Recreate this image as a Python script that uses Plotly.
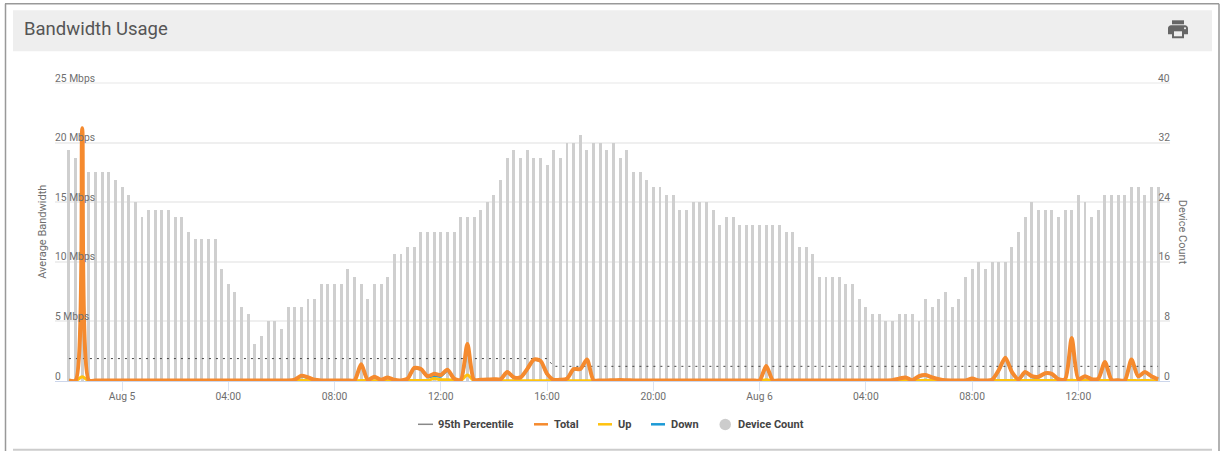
import re
import pandas as pd
import plotly.graph_objects as go

# Sample times: one reading every 15 minutes
times = pd.date_range("2021-08-04 22:00", periods=165, freq="15min")

device_count = [
    31, 30, 27, 28, 28, 28, 28, 27, 26, 25, 24, 22, 23, 23, 23, 23, 22, 22, 20, 19,
    19, 19, 19, 15, 13, 12, 10, 9, 5, 6, 8, 8, 7, 10, 10, 10, 11, 11, 13, 13,
    13, 13, 15, 14, 13, 11, 13, 13, 14, 17, 17, 18, 18, 20, 20, 20, 20, 20, 20, 22,
    22, 22, 23, 24, 25, 27, 30, 31, 30, 31, 30, 30, 29, 31, 30, 32, 32, 33, 31, 32,
    32, 31, 32, 30, 31, 28, 28, 27, 26, 26, 25, 25, 23, 23, 24, 24, 24, 23, 21, 22,
    22, 21, 21, 21, 21, 21, 21, 21, 20, 20, 18, 18, 17, 14, 14, 14, 14, 13, 13, 11,
    10, 9, 9, 8, 8, 9, 9, 9, 8, 11, 10, 11, 12, 10, 11, 14, 15, 16, 15, 16,
    16, 16, 18, 20, 22, 24, 23, 23, 23, 22, 23, 23, 25, 24, 22, 23, 25, 25, 25, 25,
    26, 26, 25, 26, 26,
]

total_mbps = [
    0.05, 0.05, 21.2, 0.05, 0.05, 0.05, 0.05, 0.05, 0.05, 0.05,
    0.05, 0.05, 0.05, 0.05, 0.05, 0.05, 0.05, 0.05, 0.05, 0.05,
    0.05, 0.05, 0.05, 0.05, 0.05, 0.05, 0.05, 0.05, 0.05, 0.05,
    0.05, 0.05, 0.05, 0.05, 0.12, 0.45, 0.3, 0.1, 0.05, 0.05,
    0.05, 0.05, 0.05, 0.05, 1.4, 0.1, 0.35, 0.1, 0.3, 0.1,
    0.05, 0.2, 1.1, 1.0, 0.4, 0.6, 0.5, 0.95, 0.2, 0.1,
    3.1, 0.1, 0.1, 0.12, 0.15, 0.15, 0.75, 0.3, 0.3, 1.0,
    1.8, 1.7, 0.6, 0.1, 0.1, 0.2, 1.0, 1.0, 1.8, 0.06,
    0.05, 0.05, 0.06, 0.08, 0.06, 0.05, 0.05, 0.05, 0.05, 0.05,
    0.05, 0.05, 0.05, 0.05, 0.05, 0.05, 0.05, 0.05, 0.05, 0.05,
    0.05, 0.05, 0.05, 0.05, 0.05, 1.25, 0.05, 0.05, 0.05, 0.05,
    0.05, 0.05, 0.05, 0.05, 0.05, 0.05, 0.05, 0.05, 0.05, 0.05,
    0.05, 0.05, 0.05, 0.05, 0.07, 0.2, 0.3, 0.07, 0.4, 0.5,
    0.3, 0.15, 0.06, 0.05, 0.05, 0.05, 0.2, 0.05, 0.05, 0.1,
    0.9, 1.95, 0.75, 0.15, 0.75, 0.4, 0.35, 0.65, 0.6, 0.15,
    0.15, 3.6, 0.15, 0.4, 0.15, 0.2, 1.6, 0.1, 0.06, 0.06,
    1.8, 0.4, 0.75, 0.4, 0.15,
]

up_mbps = [
    0.02, 0.02, 0.35, 0.02, 0.02, 0.02, 0.02, 0.02, 0.02, 0.02,
    0.02, 0.02, 0.02, 0.02, 0.02, 0.02, 0.02, 0.02, 0.02, 0.02,
    0.02, 0.02, 0.02, 0.02, 0.02, 0.02, 0.02, 0.02, 0.02, 0.02,
    0.02, 0.02, 0.02, 0.02, 0.03, 0.06, 0.05, 0.03, 0.02, 0.02,
    0.02, 0.02, 0.02, 0.02, 0.04, 0.03, 0.03, 0.03, 0.03, 0.03,
    0.03, 0.03, 0.05, 0.05, 0.05, 0.2, 0.1, 0.1, 0.05, 0.05,
    0.5, 0.03, 0.03, 0.03, 0.03, 0.03, 0.03, 0.03, 0.03, 0.03,
    0.03, 0.03, 0.03, 0.03, 0.03, 0.03, 0.03, 0.03, 0.03, 0.02,
    0.02, 0.02, 0.02, 0.02, 0.02, 0.02, 0.02, 0.02, 0.02, 0.02,
    0.02, 0.02, 0.02, 0.02, 0.02, 0.02, 0.02, 0.02, 0.02, 0.02,
    0.02, 0.02, 0.02, 0.02, 0.02, 0.1, 0.02, 0.02, 0.02, 0.02,
    0.02, 0.02, 0.02, 0.02, 0.02, 0.02, 0.02, 0.02, 0.02, 0.02,
    0.02, 0.02, 0.02, 0.02, 0.02, 0.03, 0.05, 0.02, 0.04, 0.06,
    0.04, 0.03, 0.02, 0.02, 0.02, 0.02, 0.03, 0.02, 0.02, 0.03,
    0.05, 0.05, 0.05, 0.03, 0.05, 0.04, 0.04, 0.04, 0.04, 0.03,
    0.03, 0.06, 0.03, 0.04, 0.03, 0.03, 0.05, 0.03, 0.02, 0.02,
    0.05, 0.03, 0.04, 0.03, 0.03,
]

down_mbps = [max(t - u, 0) for t, u in zip(total_mbps, up_mbps)]

# 95th percentile steps down once the earlier burst leaves the window
percentile_mbps = [1.88] * 73 + [1.23] * 92

x_tick_times = ["2021-08-05 00:00", "2021-08-05 04:00", "2021-08-05 08:00", "2021-08-05 12:00",
                "2021-08-05 16:00", "2021-08-05 20:00", "2021-08-06 00:00", "2021-08-06 04:00",
                "2021-08-06 08:00", "2021-08-06 12:00"]
x_tick_labels = ["Aug 5", "04:00", "08:00", "12:00", "16:00", "20:00", "Aug 6", "04:00", "08:00", "12:00"]
bandwidth_ticks = [5, 10, 15, 20]
bandwidth_labels = ["5 Mbps", "10 Mbps", "15 Mbps", "20 Mbps"]
device_ticks = [8, 16, 24, 32]

TOTAL = "#F58A2E"
UP = "#FFC20E"
DOWN = "#1C9AD6"
BAR = "#CFCFCF"
TICK = "#6E6E6E"
FONT = "Roboto"
SMOOTH = 0.7

# Plot box in page pixels; furniture around it is placed relative to this
W, H = 1222, 451
LEFT, RIGHT, TOP, BOTTOM = 55, 1170, 82.7, 380.7


def px(x):
    return (x - LEFT) / (RIGHT - LEFT)


def py(y):
    return (BOTTOM - y) / (BOTTOM - TOP)


def box(x0, y0, x1, y1, fill=None, line=None, width=0, layer="below"):
    return dict(type="rect", xref="paper", yref="paper", x0=px(x0), x1=px(x1), y0=py(y0), y1=py(y1),
                fillcolor=fill, line=dict(color=line, width=width), layer=layer)


def seg(x0, y0, x1, y1, color, width, layer="above"):
    return dict(type="line", xref="paper", yref="paper", x0=px(x0), x1=px(x1), y0=py(y0), y1=py(y1),
                line=dict(color=color, width=width), layer=layer)


def icon_path(d, ox, oy):
    """Translate an absolute M/L/H/V/C/Z icon path into paper coordinates."""
    out = []
    for cmd, args in re.findall(r"([MLHVCZ])([^MLHVCZ]*)", d):
        nums = [float(n) for n in args.split()]
        if cmd == "H":
            vals = [px(ox + n) for n in nums]
        elif cmd == "V":
            vals = [py(oy + n) for n in nums]
        else:
            vals = [px(ox + n) if k % 2 == 0 else py(oy + n) for k, n in enumerate(nums)]
        out.append(cmd + " ".join(f"{v:.5f}" for v in vals))
    return "".join(out)


def icon(d, fill):
    return dict(type="path", xref="paper", yref="paper", path=icon_path(d, 1166, 17),
                fillcolor=fill, line=dict(width=0), layer="above")


def label(x, y, text, size, color, bold=False, anchor="left", angle=0):
    return dict(xref="paper", yref="paper", x=px(x), y=py(y), text=f"<b>{text}</b>" if bold else text,
                showarrow=False, xanchor=anchor, yanchor="middle", textangle=angle,
                font=dict(family=FONT, size=size, color=color))


def end_tick(value, text, axis, x, anchor):
    """Tick label for the first and last tick, which sit past the plot edge once lifted."""
    return dict(xref="paper", yref=axis, x=px(x), y=value, yshift=5, text=text, showarrow=False,
                xanchor=anchor, yanchor="middle", font=dict(family=FONT, size=10.3, color=TICK))


fig = go.Figure()
fig.add_bar(x=times, y=device_count, name="Device Count", yaxis="y2", marker=dict(color=BAR, line_width=0),
            width=400000, showlegend=False)
fig.add_scatter(x=times, y=percentile_mbps, name="95th Percentile", mode="lines",
                line=dict(color="#444444", width=1, dash="2px,5px"), showlegend=False)
fig.add_scatter(x=times, y=down_mbps, name="Down", mode="lines",
                line=dict(color=DOWN, width=2.5, shape="spline", smoothing=SMOOTH), cliponaxis=False, showlegend=False)
fig.add_scatter(x=times, y=up_mbps, name="Up", mode="lines",
                line=dict(color=UP, width=3, shape="spline", smoothing=SMOOTH), cliponaxis=False, showlegend=False)
fig.add_scatter(x=times, y=total_mbps, name="Total", mode="lines",
                line=dict(color=TOTAL, width=4, shape="spline", smoothing=SMOOTH), cliponaxis=False, showlegend=False)

shapes = [
    box(13, 10, 1212, 51, fill="#EEEEEE"),
    seg(LEFT, TOP, RIGHT, TOP, "#EFEFEF", 1.5, layer="below"),
    seg(5.5, 3.5, 5.5, 451, "#999999", 1.5),
    seg(5, 3.5, 1219, 3.5, "#999999", 1.5),
    seg(1219, 3.5, 1219, 451, "#999999", 1.5),
    seg(13, 449.5, 1212, 449.5, "#CCCCCC", 2),
    icon("M19 8 H5 C3.34 8 2 9.34 2 11 V17 H6 V21 H18 V17 H22 V11 C22 9.34 20.66 8 19 8 Z", "#666666"),
    icon("M18 3 H6 V7 H18 Z", "#666666"),
    icon("M16 19 H8 V14 H16 Z", "#EEEEEE"),
    icon("M19 10 C18.45 10 18 10.45 18 11 C18 11.55 18.45 12 19 12 C19.55 12 20 11.55 20 11 C20 10.45 19.55 10 19 10 Z",
         "#EEEEEE"),
    # Legend keys
    seg(418, 424, 433, 424, "#888888", 1.5),
    seg(534, 424, 548, 424, TOTAL, 2.5),
    seg(598, 424, 612, 424, UP, 2.5),
    seg(651, 424, 665, 424, DOWN, 2.5),
    dict(type="circle", xref="paper", yref="paper", x0=px(719.5), x1=px(731), y0=py(418.5), y1=py(430),
         fillcolor="#CCCCCC", line=dict(width=0), layer="above"),
]

annotations = [
    label(22, 28.5, "Bandwidth Usage", 18.5, "#555555"),
    label(42.5, 232, "Average Bandwidth", 11, TICK, angle=-90, anchor="center"),
    label(1182.5, 232, "Device Count", 11, TICK, angle=90, anchor="center"),
    label(436, 424, "95th Percentile", 11, "#444444", bold=True),
    label(552, 424, "Total", 11, "#444444", bold=True),
    label(616, 424, "Up", 11, "#444444", bold=True),
    label(669, 424, "Down", 11, "#444444", bold=True),
    label(736, 424, "Device Count", 11, "#444444", bold=True),
    end_tick(0, "0", "y", 53, "left"),
    end_tick(25, "25 Mbps", "y", 53, "left"),
    end_tick(0, "0", "y2", 1172, "right"),
    end_tick(40, "40", "y2", 1172, "right"),
]

sample = pd.Timedelta(minutes=15)
fig.update_layout(
    width=W, height=H, autosize=False,
    margin=dict(l=LEFT, r=W - RIGHT, t=TOP, b=H - BOTTOM, pad=0),
    paper_bgcolor="white", plot_bgcolor="white",
    font=dict(family=FONT, size=10, color=TICK),
    showlegend=False, bargap=0, shapes=shapes, annotations=annotations,
    xaxis=dict(type="date", range=[times[0] - 2.1 * sample, times[0] + 165.8 * sample],
               tickmode="array", tickvals=x_tick_times, ticktext=x_tick_labels, ticks="outside", ticklen=9,
               tickcolor="#DCE3F0", tickwidth=1, showgrid=False, zeroline=False, ticklabelstandoff=-3,
               showline=True, linecolor="#CCD6EB", linewidth=1, tickfont=dict(size=10.3, color=TICK)),
    yaxis=dict(range=[0, 25], overlaying="y2", side="left", tickmode="array", tickvals=bandwidth_ticks,
               ticktext=bandwidth_labels, ticklabelposition="inside", ticklabelshift=-5, ticklabelstandoff=-3,
               showgrid=False, zeroline=False, showline=False, ticks="",
               tickfont=dict(size=10.3, color=TICK)),
    yaxis2=dict(range=[0, 40], side="right", tickmode="array", tickvals=device_ticks,
                ticklabelposition="inside", ticklabelshift=-5, ticklabelstandoff=-3, showgrid=True,
                gridcolor="#EFEFEF", gridwidth=1.5, zeroline=False, showline=False, ticks="",
                tickfont=dict(size=10.3, color=TICK)),
)

fig.write_html("out.html", config=dict(displayModeBar=False))
